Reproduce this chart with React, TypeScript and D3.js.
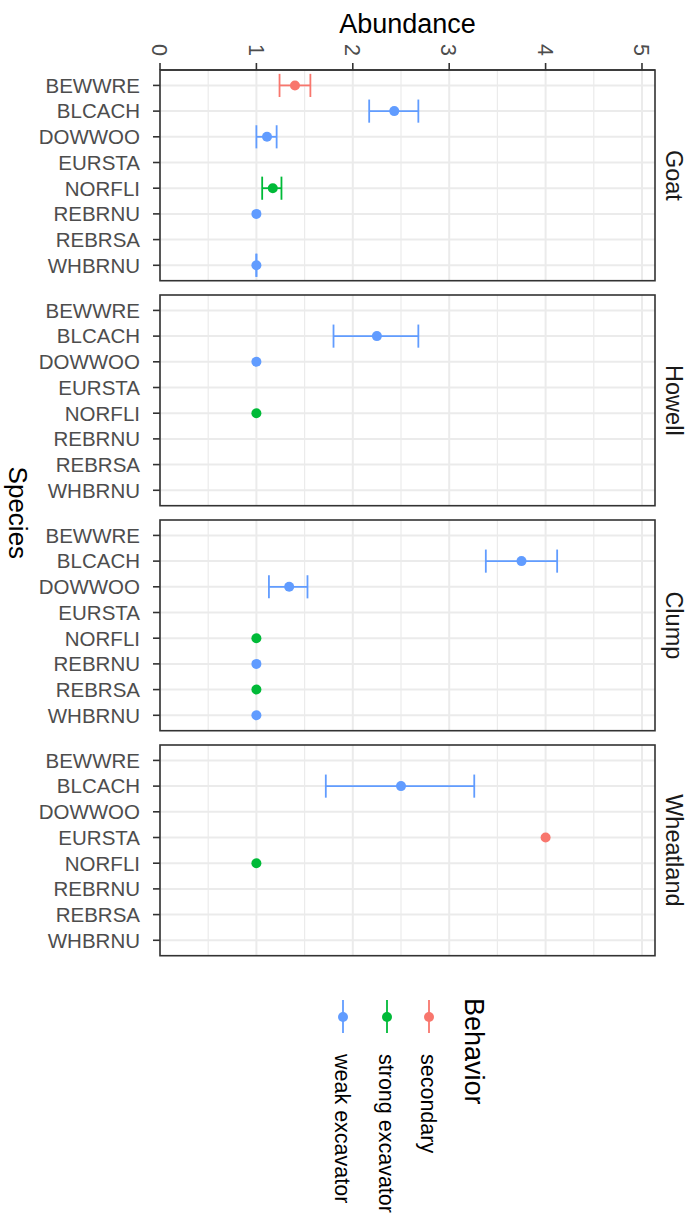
import React from 'react';
import * as d3 from 'd3';

// data
const sites = ['Goat', 'Howell', 'Clump', 'Wheatland'];
const species = ['BEWWRE', 'BLCACH', 'DOWWOO', 'EURSTA', 'NORFLI', 'REBRNU', 'REBRSA', 'WHBRNU'];
const behaviors = ['secondary', 'strong excavator', 'weak excavator'];
const behaviorColors = ['#F8766D', '#00BA38', '#619CFF'];
const speciesBehavior: Record<string, string> = {
  BEWWRE: 'secondary',
  BLCACH: 'weak excavator',
  DOWWOO: 'weak excavator',
  EURSTA: 'secondary',
  NORFLI: 'strong excavator',
  REBRNU: 'weak excavator',
  REBRSA: 'strong excavator',
  WHBRNU: 'weak excavator',
};
const abundanceTicks = [0, 1, 2, 3, 4, 5];

type Obs = { sp: string; mean: number; lo: number | null; hi: number | null };

const goat: Obs[] = [
  { sp: 'BEWWRE', mean: 1.4, lo: 1.24, hi: 1.56 },
  { sp: 'BLCACH', mean: 2.43, lo: 2.17, hi: 2.68 },
  { sp: 'DOWWOO', mean: 1.11, lo: 1.0, hi: 1.21 },
  { sp: 'NORFLI', mean: 1.17, lo: 1.06, hi: 1.26 },
  { sp: 'REBRNU', mean: 1, lo: null, hi: null },
  { sp: 'WHBRNU', mean: 1, lo: 1, hi: 1 },
];
const howell: Obs[] = [
  { sp: 'BLCACH', mean: 2.25, lo: 1.8, hi: 2.68 },
  { sp: 'DOWWOO', mean: 1, lo: null, hi: null },
  { sp: 'NORFLI', mean: 1, lo: null, hi: null },
];
const clump: Obs[] = [
  { sp: 'BLCACH', mean: 3.75, lo: 3.38, hi: 4.12 },
  { sp: 'DOWWOO', mean: 1.34, lo: 1.13, hi: 1.53 },
  { sp: 'NORFLI', mean: 1, lo: null, hi: null },
  { sp: 'REBRNU', mean: 1, lo: null, hi: null },
  { sp: 'REBRSA', mean: 1, lo: null, hi: null },
  { sp: 'WHBRNU', mean: 1, lo: null, hi: null },
];
const wheatland: Obs[] = [
  { sp: 'BLCACH', mean: 2.5, lo: 1.72, hi: 3.26 },
  { sp: 'EURSTA', mean: 4, lo: null, hi: null },
  { sp: 'NORFLI', mean: 1, lo: null, hi: null },
];
const siteData = [goat, howell, clump, wheatland];

const W = 696;
const H = 1221;
const font = '"Liberation Sans", Arial, sans-serif';

const App = () => {
  const left = 160;
  const right = 655;
  const top0 = 70;
  const panelH = 210.7;
  const panelStep = 225;

  const x = d3.scaleLinear().domain([0, 5.135]).range([left, right]);
  const minorTicks = d3.range(0.5, 5.1, 1);
  const color = d3.scaleOrdinal<string, string>().domain(behaviors).range(behaviorColors);

  const panels = sites.map((site, i) => {
    const top = top0 + i * panelStep;
    const y = d3.scalePoint<string>().domain(species).range([top, top + panelH]).padding(0.6);
    const cap = y.step() * 0.45;
    const rows = siteData[i];
    return (
      <g key={site}>
        <rect x={left} y={top} width={right - left} height={panelH} fill="#fff" />
        {minorTicks.map(t => (
          <line key={'m' + t} x1={x(t)} x2={x(t)} y1={top} y2={top + panelH} stroke="#EBEBEB" strokeWidth={1.2} />
        ))}
        {abundanceTicks.map(t => (
          <line key={'M' + t} x1={x(t)} x2={x(t)} y1={top} y2={top + panelH} stroke="#EBEBEB" strokeWidth={2} />
        ))}
        {species.map(s => (
          <line key={'h' + s} x1={left} x2={right} y1={y(s)} y2={y(s)} stroke="#EBEBEB" strokeWidth={2} />
        ))}
        {rows.map(d => {
          const c = color(speciesBehavior[d.sp]);
          const cy = y(d.sp) as number;
          return (
            <g key={d.sp}>
              {d.lo !== null && d.hi !== null && (
                <g stroke={c} strokeWidth={1.8}>
                  <line x1={x(d.lo)} x2={x(d.hi)} y1={cy} y2={cy} />
                  <line x1={x(d.lo)} x2={x(d.lo)} y1={cy - cap} y2={cy + cap} />
                  <line x1={x(d.hi)} x2={x(d.hi)} y1={cy - cap} y2={cy + cap} />
                </g>
              )}
              <circle cx={x(d.mean)} cy={cy} r={5} fill={c} />
            </g>
          );
        })}
        <rect x={left} y={top} width={right - left} height={panelH} fill="none" stroke="#333333" strokeWidth={1.6} />
        {species.map(s => (
          <g key={'t' + s}>
            <line x1={left - 7} x2={left} y1={y(s)} y2={y(s)} stroke="#333333" strokeWidth={1.6} />
            <text x={left - 20} y={y(s)} dy="0.36em" textAnchor="end" fontSize={20.5} fill="#4D4D4D" fontFamily={font}>
              {s}
            </text>
          </g>
        ))}
        <text
          transform={`translate(666,${top + panelH / 2}) rotate(90)`}
          textAnchor="middle"
          fontSize={23.5}
          fill="#1A1A1A"
          fontFamily={font}
        >
          {site}
        </text>
      </g>
    );
  });

  const legendX = [429, 387, 343];

  return (
    <svg width={W} height={H} style={{ position: 'absolute', left: 0, top: 0, background: '#fff' }}>
      <rect width={W} height={H} fill="#fff" />
      {panels}
      {/* top axis */}
      <line x1={left} x2={right} y1={top0} y2={top0} stroke="#333333" strokeWidth={1.6} />
      {abundanceTicks.map(t => (
        <g key={t}>
          <line x1={x(t)} x2={x(t)} y1={top0 - 7} y2={top0} stroke="#333333" strokeWidth={1.6} />
          <text
            transform={`translate(${x(t)},56) rotate(90)`}
            dy="0.36em"
            textAnchor="end"
            fontSize={21.5}
            fill="#4D4D4D"
            fontFamily={font}
          >
            {t}
          </text>
        </g>
      ))}
      <text x={(left + right) / 2} y={33} textAnchor="middle" fontSize={27} fill="#000" fontFamily={font}>
        Abundance
      </text>
      <text
        transform={`translate(9,${top0 + (3 * panelStep + panelH) / 2}) rotate(90)`}
        textAnchor="middle"
        fontSize={26}
        fill="#000"
        fontFamily={font}
      >
        Species
      </text>
      {/* legend */}
      <text transform="translate(465,998) rotate(90)" fontSize={27} fill="#000" fontFamily={font}>
        Behavior
      </text>
      {behaviors.map((b, i) => (
        <g key={b}>
          <line x1={legendX[i]} x2={legendX[i]} y1={1000} y2={1033} stroke={color(b)} strokeWidth={1.8} />
          <circle cx={legendX[i]} cy={1017} r={5} fill={color(b)} />
          <text
            transform={`translate(${legendX[i] - 8},1054) rotate(90)`}
            fontSize={21.5}
            fill="#000"
            fontFamily={font}
          >
            {b}
          </text>
        </g>
      ))}
    </svg>
  );
};

export default App;
